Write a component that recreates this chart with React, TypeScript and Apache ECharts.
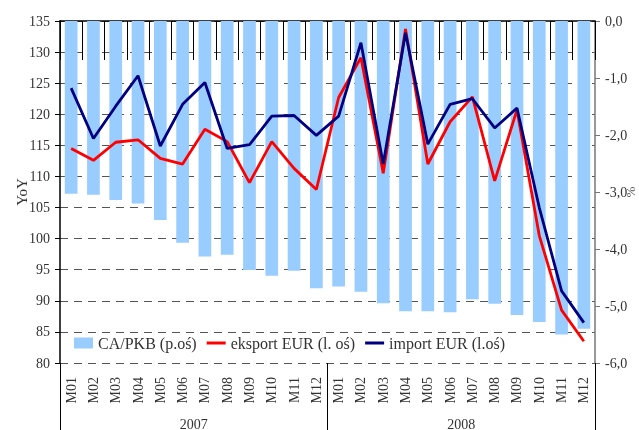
import React, { useEffect, useRef } from "react";
import * as echarts from "echarts";

const months = ["M01","M02","M03","M04","M05","M06","M07","M08","M09","M10","M11","M12","M01","M02","M03","M04","M05","M06","M07","M08","M09","M10","M11","M12"];
const years = ["2007", "2008"];
const caPkb = [-3.03,-3.05,-3.14,-3.2,-3.49,-3.89,-4.13,-4.1,-4.37,-4.47,-4.38,-4.69,-4.66,-4.75,-4.95,-5.09,-5.09,-5.11,-4.88,-4.96,-5.16,-5.28,-5.5,-5.4];
const eksport = [114.5,112.6,115.5,115.9,112.9,112.0,117.6,115.6,109.0,115.6,111.3,107.9,122.7,129.1,110.5,133.7,112.0,118.8,122.8,109.3,120.7,100.5,88.5,83.5];
const importEur = [124.2,116.1,121.3,126.2,114.9,121.6,125.1,114.5,115.1,119.7,119.8,116.6,119.7,131.5,112.0,133.1,115.2,121.6,122.5,117.8,121.0,105.0,91.6,86.5];

const FONT = "'Liberation Serif', 'DejaVu Serif', serif";
const LINE_ICON = "path://M0,0L0,11M0,4H20V7H0Z";

export default function App() {
  const ref = useRef<HTMLDivElement>(null);
  useEffect(() => {
    if (!ref.current) return;
    const chart = echarts.init(ref.current, null, { renderer: "svg" });
    chart.setOption({
      animation: false,
      textStyle: { fontFamily: FONT },
      grid: { left: 60, right: 44, top: 21, bottom: 67, containLabel: false, outerBoundsMode: "none" },
      legend: {
        left: 74,
        top: 335,
        padding: 0,
        itemWidth: 19,
        itemHeight: 11,
        itemGap: 10,
        itemTextGap: 3,
        textStyle: { fontFamily: FONT, fontSize: 16, color: "#333" },
        data: [
          { name: "CA/PKB (p.oś)", icon: "rect" },
          { name: "eksport EUR (l. oś)", icon: LINE_ICON },
          { name: "import EUR (l.oś)", icon: LINE_ICON },
        ],
      },
      xAxis: [
        {
          type: "category",
          data: months,
          position: "bottom",
          axisLine: { show: true, lineStyle: { color: "#000", width: 1.5 } },
          axisTick: { show: true, length: 39, lineStyle: { color: "#000" } },
          axisLabel: { rotate: 90, margin: 14, fontSize: 14, color: "#333", fontFamily: FONT },
        },
        {
          type: "category",
          data: years,
          position: "bottom",
          axisLine: { show: false },
          axisTick: { show: true, length: 70, lineStyle: { color: "#000" } },
          axisLabel: { margin: 54, fontSize: 14, color: "#333", fontFamily: FONT },
        },
      ],
      yAxis: [
        {
          type: "value",
          min: 80,
          max: 135,
          interval: 5,
          name: "YoY",
          nameLocation: "middle",
          nameGap: 31,
          nameMoveOverlap: false,
          nameTextStyle: { fontSize: 15, color: "#333", fontFamily: FONT },
          axisLine: { show: true, lineStyle: { color: "#000", width: 1.5 } },
          axisTick: { show: true, length: 5, lineStyle: { color: "#000" } },
          axisLabel: { fontSize: 14, color: "#333", margin: 10, fontFamily: FONT },
          splitLine: { show: true, lineStyle: { color: "#555", type: [8, 6], width: 1 } },
        },
        {
          type: "value",
          min: -6,
          max: 0,
          interval: 1,
          position: "right",
          name: "%",
          nameLocation: "middle",
          nameGap: 29,
          nameMoveOverlap: false,
          nameTextStyle: { fontSize: 13, color: "#555", fontFamily: FONT },
          axisLine: { show: true, lineStyle: { color: "#777", width: 1.5 } },
          axisTick: { show: true, length: 5, lineStyle: { color: "#777" } },
          axisLabel: {
            fontSize: 14,
            color: "#333",
            margin: 10,
            fontFamily: FONT,
            formatter: (v: number) => (Math.abs(v) < 1e-9 ? "0,0" : v.toFixed(1).replace(".", ",")),
          },
          splitLine: { show: false },
        },
      ],
      series: [
        {
          name: "CA/PKB (p.oś)",
          type: "bar",
          xAxisIndex: 0,
          yAxisIndex: 1,
          data: caPkb,
          barWidth: "57%",
          itemStyle: { color: "#99CCFF" },
        },
        {
          name: "eksport EUR (l. oś)",
          type: "line",
          xAxisIndex: 0,
          yAxisIndex: 0,
          data: eksport,
          symbol: "none",
          lineStyle: { color: "#FF0000", width: 2.8 },
          itemStyle: { color: "#FF0000" },
        },
        {
          name: "import EUR (l.oś)",
          type: "line",
          xAxisIndex: 0,
          yAxisIndex: 0,
          data: importEur,
          symbol: "none",
          lineStyle: { color: "#000080", width: 2.8 },
          itemStyle: { color: "#000080" },
        },
      ],
    });
    return () => chart.dispose();
  }, []);
  return <div ref={ref} style={{ position: "fixed", left: 0, top: 0, width: 639, height: 430 }} />;
}
